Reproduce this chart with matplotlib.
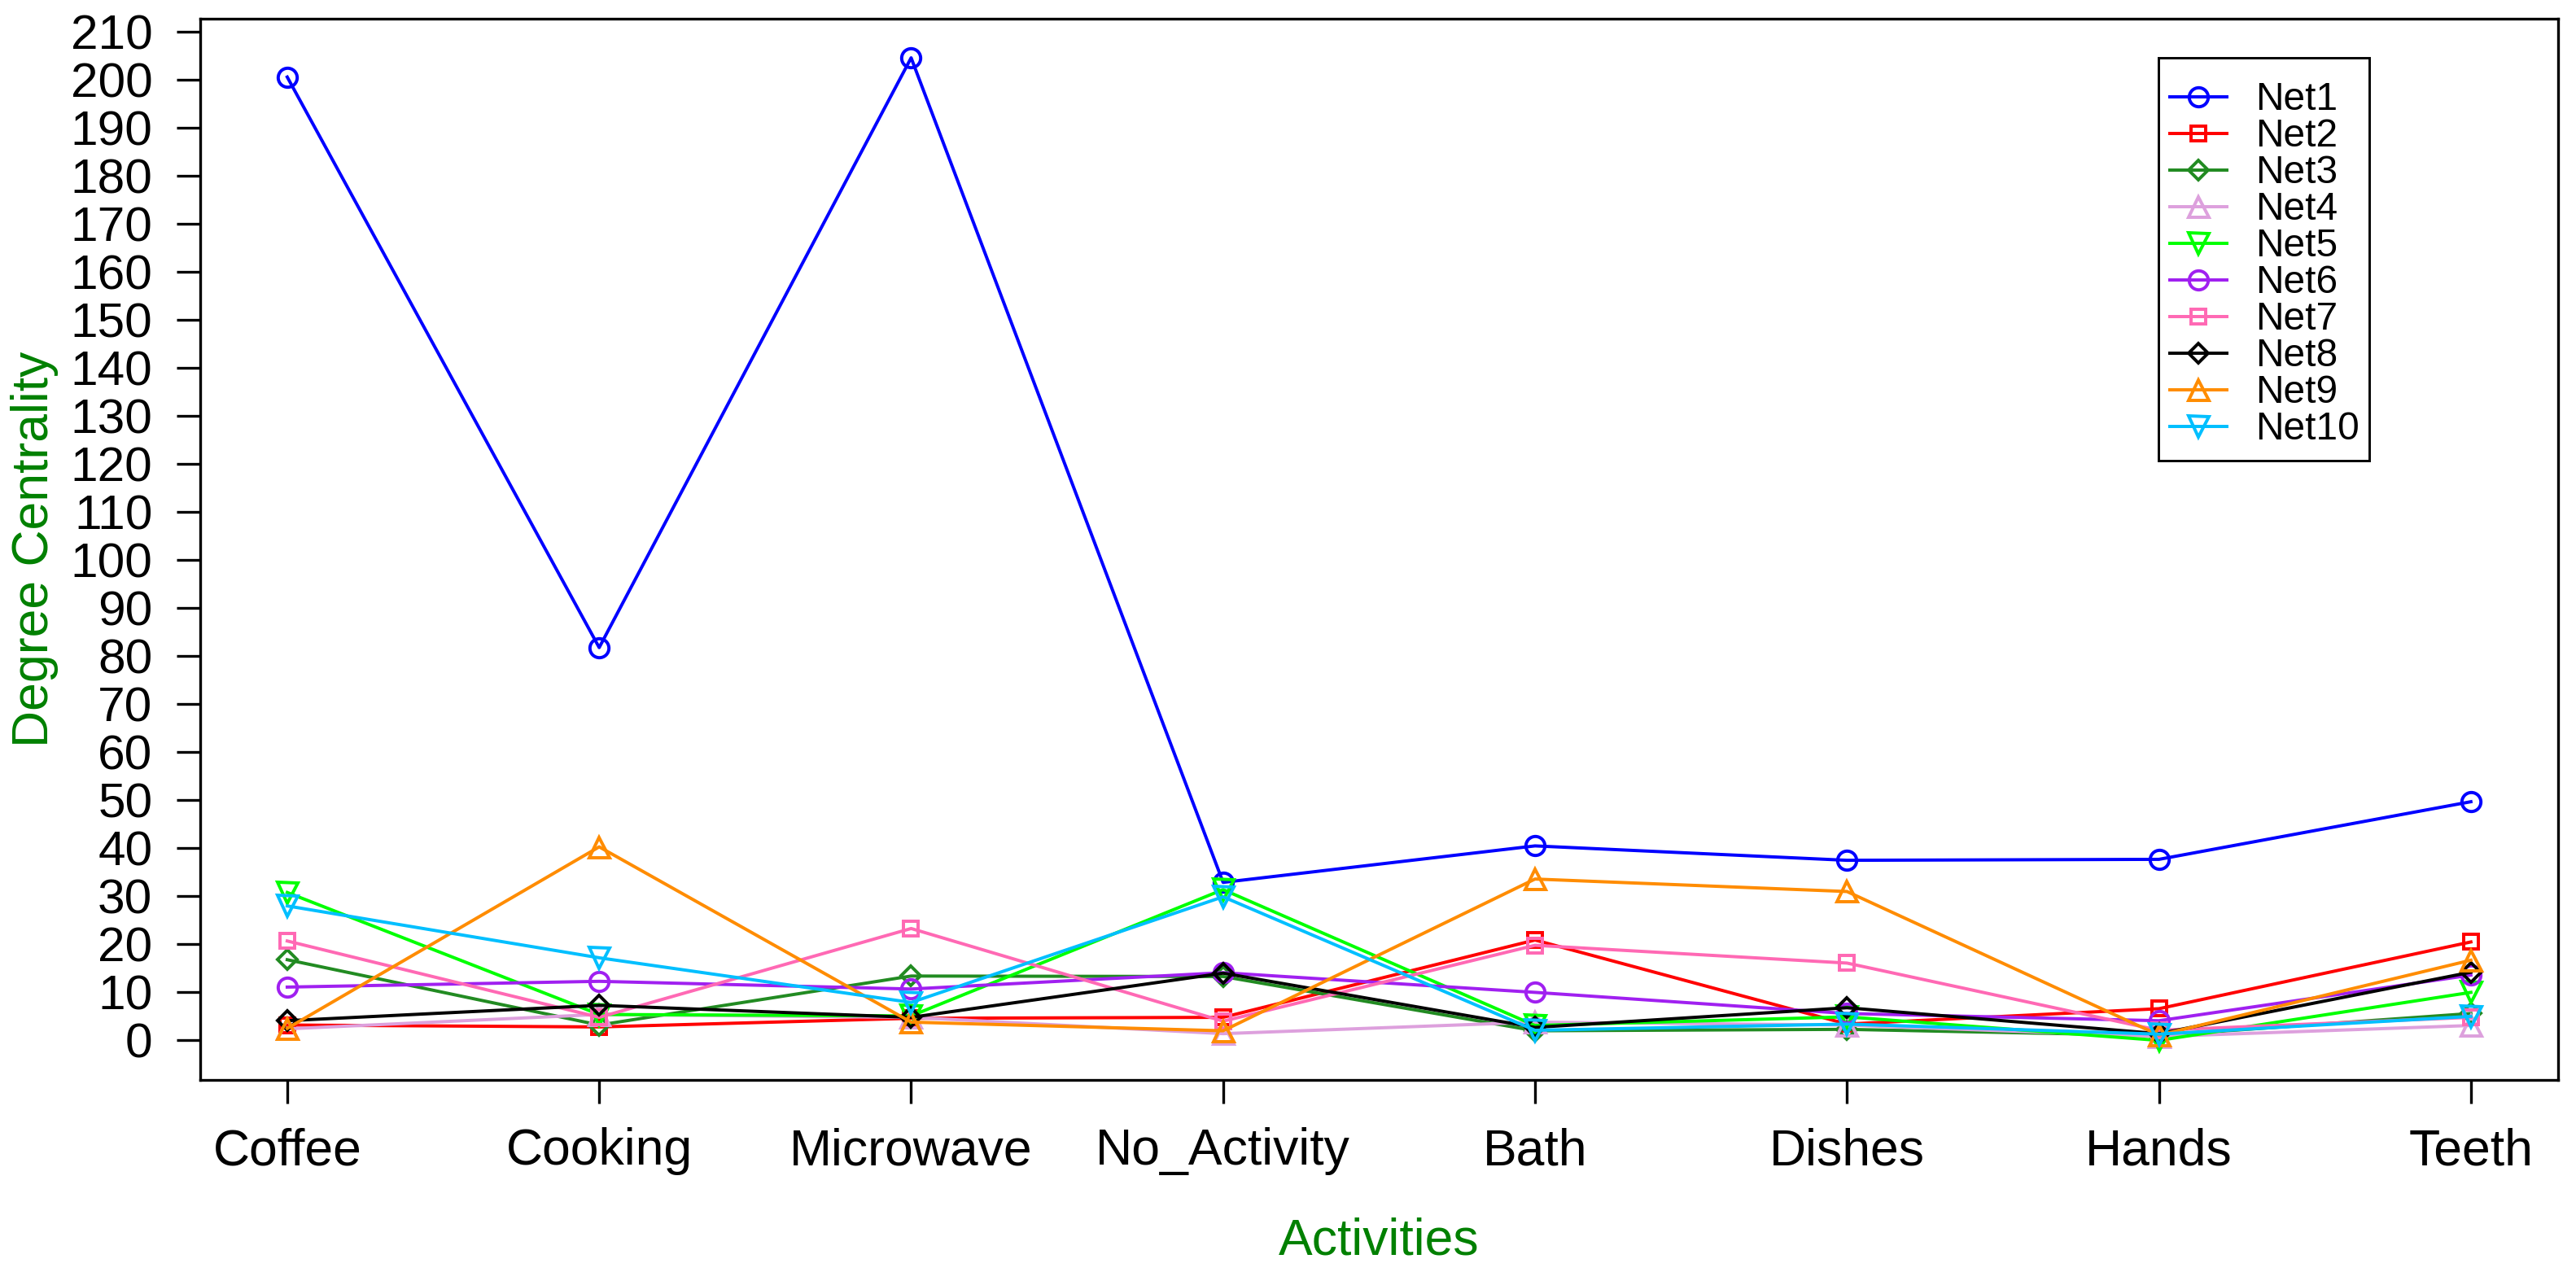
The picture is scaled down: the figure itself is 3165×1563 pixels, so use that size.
import matplotlib
matplotlib.use("Agg")
import matplotlib.pyplot as plt
from matplotlib.patches import Rectangle

plt.rcParams['font.family'] = ['Liberation Sans', 'DejaVu Sans']

# actividades (eje x)
activities = ['Coffee', 'Cooking', 'Microwave', 'No_Activity', 'Bath', 'Dishes', 'Hands', 'Teeth']

# centralidad de grado por red
net1 = [200.6, 81.8, 204.6, 32.9, 40.5, 37.5, 37.7, 49.7]
net2 = [3.2, 2.8, 4.6, 4.8, 20.9, 3.4, 6.6, 20.5]
net3 = [16.8, 3.2, 13.4, 13.3, 2.0, 2.3, 1.0, 5.6]
net4 = [2.4, 5.4, 4.8, 1.4, 3.8, 3.2, 0.8, 3.1]
net5 = [30.8, 5.4, 5.1, 31.4, 3.1, 4.9, 0.0, 10.0]
net6 = [11.1, 12.3, 10.7, 14.1, 10.0, 5.6, 4.1, 13.6]
net7 = [20.7, 4.8, 23.3, 4.0, 19.8, 16.1, 2.1, 4.8]
net8 = [4.1, 7.3, 4.8, 14.0, 2.7, 6.8, 1.4, 14.2]
net9 = [2.5, 40.3, 3.8, 2.0, 33.6, 31.0, 1.1, 16.7]
net10 = [28.0, 17.2, 7.9, 29.9, 2.1, 3.4, 1.3, 5.0]

series = [net1, net2, net3, net4, net5, net6, net7, net8, net9, net10]
labels = ['Net1', 'Net2', 'Net3', 'Net4', 'Net5', 'Net6', 'Net7', 'Net8', 'Net9', 'Net10']
colors = ['#0000FF', '#FF0000', '#228B22', '#DDA0DD', '#00FF00',
          '#A020F0', '#FF69B4', '#000000', '#FF8C00', '#00BFFF']
markers = ['o', 's', 'D', '^', 'v', 'o', 's', 'D', '^', 'v']
msizes = {'o': 5.6, 's': 4.4, 'D': 4.0, '^': 6.0, 'v': 6.0}

W, H = 3165, 1563
fig = plt.figure(figsize=(10.55, 5.21), dpi=300)
ax = fig.add_axes([0.0776, 0.1512, 0.9931 - 0.0776, 0.9855 - 0.1512])

x = list(range(1, len(activities) + 1))
for vals, lab, col, mk in zip(series, labels, colors, markers):
    ax.plot(x, vals, color=col, marker=mk, markersize=msizes[mk], fillstyle='none',
            markeredgewidth=0.95, linewidth=0.95, label=lab)

ax.set_xlim(0.72, 8.28)
ax.set_ylim(-8.18, 212.8)
ax.set_yticks(range(0, 211, 10))
ax.set_xticks(x)
ax.set_xticklabels(activities)

ax.tick_params(axis='y', direction='out', length=7, width=0.8, pad=7, labelsize=14.5)
ax.tick_params(axis='x', direction='out', length=7, width=0.8, pad=7, labelsize=15)
for s in ax.spines.values():
    s.set_linewidth(0.8)

ax.set_xlabel('Activities', color='#008000', fontsize=15)
ax.xaxis.label.set_va('baseline')
ax.xaxis.set_label_coords(0.5, -0.1649)
ax.set_ylabel('Degree Centrality', color='#008000', fontsize=15)
ax.yaxis.label.set_va('center')
ax.yaxis.set_label_coords(-0.0701, 0.5)

# leyenda sin marco, el marco se dibuja aparte (como en R)
leg = ax.legend(loc='upper left', bbox_to_anchor=(2651.7 / W, 1 - 86 / H),
                bbox_transform=fig.transFigure, fontsize=11.5, frameon=False,
                borderaxespad=0, borderpad=0.3, handlelength=1.46,
                handletextpad=0.73, labelspacing=0.0)
caja = Rectangle((2651.7 / W, 1 - 566 / H), 259 / W, 495 / H,
                 transform=fig.transFigure, fill=False, edgecolor='black',
                 linewidth=0.7, zorder=5)
fig.patches.append(caja)

fig.savefig('out.png', dpi=300)
